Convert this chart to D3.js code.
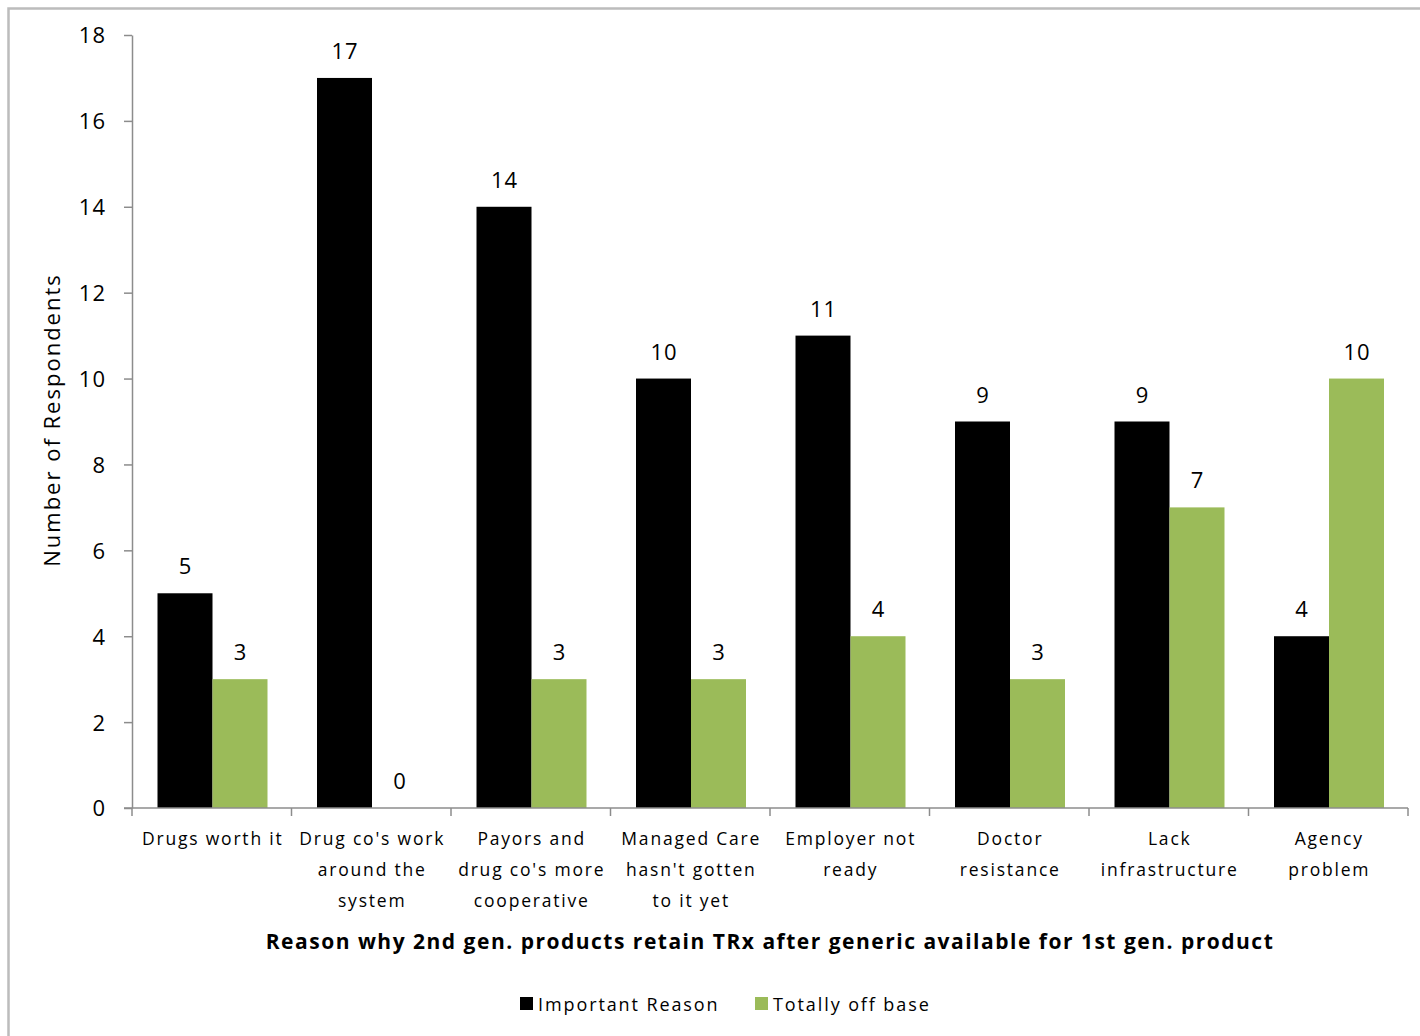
<!DOCTYPE html>
<html>
<head>
<meta charset="utf-8">
<script src="https://cdn.jsdelivr.net/npm/d3@7"></script>
<style>
  html, body { margin: 0; padding: 0; background: #fff; }
  svg { display: block; }
  text { font-family: "Open Sans", "DejaVu Sans", sans-serif; fill: #000; }
</style>
</head>
<body>
<svg id="chart" width="1420" height="1036"></svg>
<script>
// Survey responses per reason
const categories = [
  ["Drugs worth it"],
  ["Drug co's work", "around the", "system"],
  ["Payors and", "drug co's more", "cooperative"],
  ["Managed Care", "hasn't gotten", "to it yet"],
  ["Employer not", "ready"],
  ["Doctor", "resistance"],
  ["Lack", "infrastructure"],
  ["Agency", "problem"]
];
const importantReason = [5, 17, 14, 10, 11, 9, 9, 4];
const totallyOffBase = [3, 0, 3, 3, 4, 3, 7, 10];
const seriesNames = ["Important Reason", "Totally off base"];
const seriesColors = ["#000000", "#9BBB59"];
const yTicks = [0, 2, 4, 6, 8, 10, 12, 14, 16, 18];

const svg = d3.select("#chart");

// outer chart frame
svg.append("rect")
  .attr("x", 8.5).attr("y", 8.5)
  .attr("width", 1430).attr("height", 1050)
  .attr("fill", "none").attr("stroke", "#bcbcbc").attr("stroke-width", 2.5);

const plot = { left: 132, right: 1408, top: 35, bottom: 808 };

const x = d3.scaleBand()
  .domain(d3.range(categories.length))
  .range([plot.left, plot.right])
  .paddingInner(0).paddingOuter(0);

const inner = d3.scaleBand()
  .domain([0, 1])
  .range([25.5, x.bandwidth() - 24]);

const y = d3.scaleLinear().domain([0, 18]).range([plot.bottom, plot.top]);

const rows = categories.map((c, i) => ({ i, values: [importantReason[i], totallyOffBase[i]] }));

// bars
const groups = svg.append("g").selectAll("g").data(rows).join("g")
  .attr("transform", d => `translate(${x(d.i)},0)`);

groups.selectAll("rect").data(d => d.values.map((v, s) => ({ v, s })))
  .join("rect")
  .attr("x", d => inner(d.s))
  .attr("width", inner.bandwidth())
  .attr("y", d => y(d.v))
  .attr("height", d => y(0) - y(d.v))
  .attr("fill", d => seriesColors[d.s]);

// value labels
groups.selectAll("text.val").data(d => d.values.map((v, s) => ({ v, s })))
  .join("text")
  .attr("class", "val")
  .attr("x", d => inner(d.s) + inner.bandwidth() / 2 + 0.5)
  .attr("y", d => y(d.v) - 19)
  .attr("text-anchor", "middle")
  .attr("font-size", 22)
  .attr("letter-spacing", 1)
  .text(d => d.v);

// y axis
const yAxis = svg.append("g")
  .attr("transform", `translate(${plot.left},0)`)
  .call(d3.axisLeft(y).tickValues(yTicks).tickSize(8).tickPadding(18).tickSizeOuter(0));
yAxis.select(".domain").attr("stroke", "#8c8c8c").attr("stroke-width", 1.5);
yAxis.selectAll(".tick line").attr("stroke", "#8c8c8c").attr("stroke-width", 1.5);
yAxis.selectAll(".tick text")
  .attr("font-size", 22).attr("font-family", "Open Sans").attr("fill", "#000")
  .attr("letter-spacing", 1).attr("dy", "0.36em");

// x axis with boundary ticks
const xAxisG = svg.append("g").attr("transform", `translate(0,${plot.bottom})`);
xAxisG.append("line")
  .attr("x1", plot.left - 8).attr("x2", plot.right)
  .attr("stroke", "#8c8c8c").attr("stroke-width", 1.5);
xAxisG.selectAll("line.tk").data(d3.range(categories.length + 1))
  .join("line").attr("class", "tk")
  .attr("x1", i => i < categories.length ? x(i) : plot.right)
  .attr("x2", i => i < categories.length ? x(i) : plot.right)
  .attr("y1", 0).attr("y2", 8)
  .attr("stroke", "#8c8c8c").attr("stroke-width", 1.5);

// category labels
xAxisG.selectAll("text.cat").data(categories.map((c, i) => ({ c, i })))
  .join("text").attr("class", "cat")
  .attr("text-anchor", "middle")
  .attr("font-size", 17.5)
  .attr("letter-spacing", 1.8)
  .each(function (d) {
    d3.select(this).selectAll("tspan").data(d.c).join("tspan")
      .attr("x", x(d.i) + x.bandwidth() / 2 + 1)
      .attr("y", (l, k) => 37 + k * 31)
      .text(l => l);
  });

// axis titles
svg.append("text")
  .attr("x", 770).attr("y", 949)
  .attr("text-anchor", "middle")
  .attr("font-size", 21).attr("font-weight", "bold")
  .attr("letter-spacing", 1.5)
  .text("Reason why 2nd gen. products retain TRx after generic available for 1st gen. product");

svg.append("text")
  .attr("transform", "translate(60,420) rotate(-90)")
  .attr("text-anchor", "middle")
  .attr("font-size", 22)
  .attr("letter-spacing", 2)
  .text("Number of Respondents");

// legend
const legendItems = [{ x: 520, s: 0 }, { x: 755, s: 1 }];
const legend = svg.append("g").selectAll("g").data(legendItems).join("g")
  .attr("transform", d => `translate(${d.x},1003)`);
legend.append("rect")
  .attr("x", 0).attr("y", -6).attr("width", 13).attr("height", 13)
  .attr("fill", d => seriesColors[d.s]);
legend.append("text")
  .attr("x", 18).attr("y", 8)
  .attr("font-size", 18)
  .attr("letter-spacing", 1.9)
  .text(d => seriesNames[d.s]);
</script>
</body>
</html>
